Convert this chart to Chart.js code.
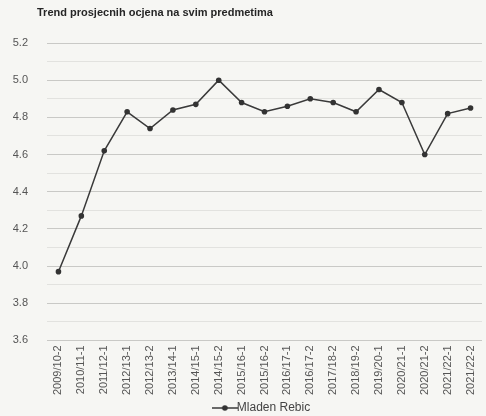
<!DOCTYPE html>
<html>
<head>
<meta charset="utf-8">
<script src="https://cdn.jsdelivr.net/npm/chart.js@4/dist/chart.umd.min.js"></script>
<style>
  html, body { margin: 0; padding: 0; background: #f6f6f3; }
  #wrap { position: relative; width: 486px; height: 416px; }
  #title {
    position: absolute; left: 37px; top: 6px;
    font: bold 11px "Liberation Sans", Arial, sans-serif; color: #262626;
  }
</style>
</head>
<body>
<div id="wrap">
  <div id="title">Trend prosjecnih ocjena na svim predmetima</div>
  <canvas id="trendChart"></canvas>
</div>
<script>
// Semesters and average grades
const semesters = [
  '2009/10-2', '2010/11-1', '2011/12-1', '2012/13-1', '2012/13-2', '2013/14-1',
  '2014/15-1', '2014/15-2', '2015/16-1', '2015/16-2', '2016/17-1', '2016/17-2',
  '2017/18-2', '2018/19-2', '2019/20-1', '2020/21-1', '2020/21-2', '2021/22-1', '2021/22-2'
];
const averages = [
  3.97, 4.27, 4.62, 4.83, 4.74, 4.84,
  4.87, 5.00, 4.88, 4.83, 4.86, 4.90,
  4.88, 4.83, 4.95, 4.88, 4.60, 4.82, 4.85
];
const seriesName = 'Mladen Rebic';
const yMin = 3.6;
const yMax = 5.2;
const yStep = 0.1;

// legend marker: short line with a dot in the middle
function lineDotMarker() {
    const c = document.createElement('canvas');
    c.width = 26; c.height = 8;
    const g = c.getContext('2d');
    g.strokeStyle = '#3a3a3a';
    g.lineWidth = 1.5;
    g.beginPath(); g.moveTo(0, 4); g.lineTo(26, 4); g.stroke();
    g.fillStyle = '#333';
    g.beginPath(); g.arc(13, 4, 2.8, 0, Math.PI * 2); g.fill();
    return c;
}

const font = "'Liberation Sans', Arial, sans-serif";

new Chart(document.getElementById('trendChart').getContext('2d'), {
    type: 'line',
    data: {
        labels: semesters,
        datasets: [{
            label: seriesName,
            data: averages,
            borderColor: '#3a3a3a',
            backgroundColor: '#333',
            borderWidth: 1.5,
            tension: 0,
            pointRadius: 2.8,
            pointBackgroundColor: '#333',
            pointBorderColor: '#333',
            pointBorderWidth: 0,
        }],
    },
    options: {
        responsive: true,
        maintainAspectRatio: false,
        animation: false,
        layout: { padding: { top: 43, left: 0, right: 1, bottom: -8 } },
        plugins: {
            title: { display: false },
            tooltip: { enabled: false },
            legend: {
                position: 'bottom',
                fullSize: false,
                labels: {
                    usePointStyle: true,
                    pointStyle: lineDotMarker(),
                    boxHeight: 8,
                    color: '#444',
                    font: { family: font, size: 12 },
                    padding: 2,
                },
            },
        },
        scales: {
            x: {
                offset: true,
                grid: { display: false, drawTicks: false },
                border: { display: false },
                ticks: {
                    color: '#555',
                    font: { family: font, size: 11 },
                    minRotation: 90,
                    maxRotation: 90,
                    autoSkip: false,
                    padding: 5,
                },
                afterFit: s => { s.paddingLeft = 0; s.paddingRight = 0; },
            },
            y: {
                min: yMin,
                max: yMax,
                border: { display: false },
                grid: {
                    drawTicks: false,
                    color: ctx => (ctx.index % 2 === 0 ? '#c9c9c6' : '#e2e2df'),
                    lineWidth: 1,
                },
                ticks: {
                    stepSize: yStep,
                    autoSkip: false,
                    color: '#555',
                    font: { family: font, size: 11 },
                    padding: 19,
                    callback: (v, i) => (i % 2 === 0 ? Number(v).toFixed(1) : ''),
                },
                afterFit: s => { s.width = 47; },
            },
        },
    },
});
</script>
</body>
</html>
